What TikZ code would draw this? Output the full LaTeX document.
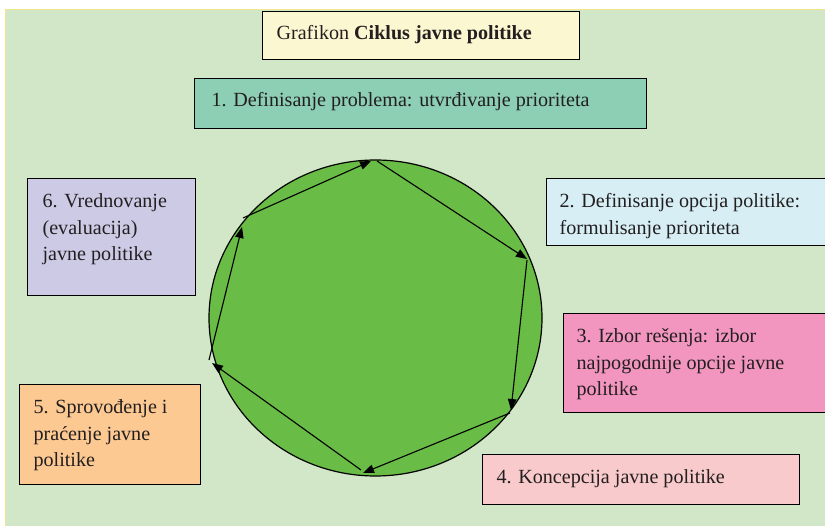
\documentclass[tikz,border=0pt]{standalone}
\usepackage{fontspec}
\setmainfont{LiberationSerif}[Extension=.ttf,UprightFont=*-Regular,BoldFont=*-Bold,ItalicFont=*-Italic,BoldItalicFont=*-BoldItalic]
\usetikzlibrary{arrows.meta,shapes.geometric}
\definecolor{bg}{HTML}{D1E7C7}
\definecolor{bgline}{HTML}{F2E68C}
\definecolor{ctitle}{HTML}{FBF7D0}
\definecolor{cone}{HTML}{8CCFB4}
\definecolor{ctwo}{HTML}{D6EEF4}
\definecolor{cthree}{HTML}{F296C0}
\definecolor{cfour}{HTML}{F9CACB}
\definecolor{cfive}{HTML}{FDC992}
\definecolor{csix}{HTML}{CDCAE6}
\definecolor{ccirc}{HTML}{69BC45}
\definecolor{txt}{HTML}{231F20}
% width, height, left pad, top pad, text
\newcommand\bxc[5]{\parbox[c][#2][t]{#1}{\vspace*{#4}\raggedright\leftskip=#3\relax\parindent=0pt\rmfamily\fontsize{20.1pt}{26.5pt}\selectfont\rule{0pt}{16pt}#5\par}}
\begin{document}
\begin{tikzpicture}[x=1pt,y=-1pt,
  boxst/.style={draw=black, line width=1.2pt, inner sep=0pt, anchor=north west, text=txt},
  cyc/.style={-{Triangle[length=11pt,width=8.5pt]}, line width=1.1pt, draw=black}]
\useasboundingbox (0,0) rectangle (825,526);
\clip (0,0) rectangle (825,526);
\fill[white] (0,0) rectangle (825,526);
\draw[bgline, fill=bg, line width=1pt] (5,10) rectangle (840,540);

\node[boxst, fill=ctitle] (title) at (262,11) {\bxc{317pt}{48pt}{14pt}{12pt}{Grafikon \textbf{Ciklus javne politike}}};
\node[boxst, fill=cone] (b1) at (194,78) {\bxc{452pt}{50pt}{17pt}{12pt}{1. Definisanje problema: utvrđivanje prioriteta}};
\node[boxst, fill=csix] (b6) at (27,178) {\bxc{168pt}{117pt}{15pt}{13pt}{6. Vrednovanje\\(evaluacija)\\javne politike}};
\node[boxst, fill=ctwo] (b2) at (546,178) {\bxc{290pt}{67pt}{13pt}{13pt}{2. Definisanje opcija politike:\\formulisanje prioriteta}};
\node[boxst, fill=cthree] (b3) at (563,313) {\bxc{275pt}{99pt}{13pt}{13pt}{3. Izbor rešenja: izbor\\najpogodnije opcije javne\\politike}};
\node[boxst, fill=cfive] (b5) at (19,384) {\bxc{181pt}{100pt}{14pt}{13pt}{5. Sprovođenje i\\praćenje javne\\politike}};
\node[boxst, fill=cfour] (b4) at (482,454) {\bxc{317pt}{50pt}{14pt}{13pt}{4. Koncepcija javne politike}};

\node[ellipse, draw=black, fill=ccirc, line width=1.2pt, inner sep=0pt,
      minimum width=333pt, minimum height=316pt] (cycle) at (375.5,318) {};

\coordinate (a0) at (377,161); \coordinate (b1t) at (527,259);
\coordinate (b0) at (527,260); \coordinate (c1t) at (511,410);
\coordinate (c0) at (510,413); \coordinate (d1t) at (363,473);
\coordinate (d0) at (361,470); \coordinate (e1t) at (212,363);
\coordinate (e0) at (209,360); \coordinate (f1t) at (242,227);
\coordinate (f0) at (243,218); \coordinate (a1t) at (371,161);

\draw[cyc] (a0) -- (b1t);
\draw[cyc] (b0) -- (c1t);
\draw[cyc] (c0) -- (d1t);
\draw[cyc] (d0) -- (e1t);
\draw[cyc] (e0) -- (f1t);
\draw[cyc] (f0) -- (a1t);
\end{tikzpicture}
\end{document}
